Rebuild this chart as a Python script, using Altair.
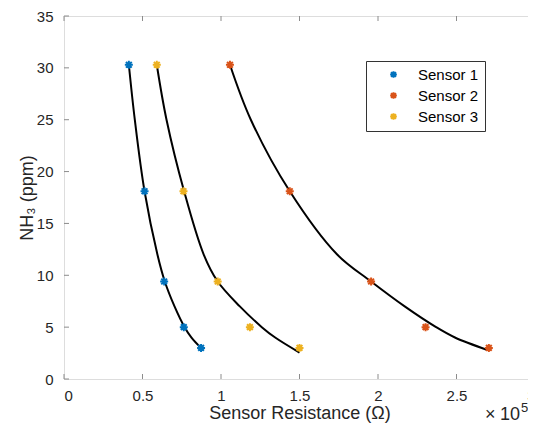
import altair as alt
import pandas as pd

# ---- data ----
ppm = [30.3, 18.1, 9.4, 5.0, 3.0]
sensor1 = [0.413, 0.513, 0.638, 0.763, 0.873]
sensor2 = [1.057, 1.438, 1.956, 2.303, 2.706]
sensor3 = [0.591, 0.761, 0.979, 1.184, 1.500]
series_names = ["Sensor 1", "Sensor 2", "Sensor 3"]
series_colors = ["#0072BD", "#D95319", "#EDB120"]

# fitted curves
fit1_y = [30.3, 25.0, 18.1, 12.0, 9.4, 7.0, 5.0, 4.0, 3.0]
fit1_x = [0.413, 0.451, 0.513, 0.595, 0.642, 0.704, 0.768, 0.812, 0.873]
fit2_y = [30.3, 25.0, 18.1, 12.0, 9.4, 7.0, 5.0, 4.0, 2.8]
fit2_x = [1.057, 1.190, 1.438, 1.740, 1.956, 2.170, 2.370, 2.490, 2.697]
fit3_y = [30.3, 25.0, 18.1, 12.0, 9.4, 7.0, 5.0, 4.0, 2.55]
fit3_x = [0.591, 0.653, 0.765, 0.890, 0.979, 1.120, 1.260, 1.345, 1.500]

x_ticks = [0, 0.5, 1, 1.5, 2, 2.5, 3]
y_ticks = [0, 5, 10, 15, 20, 25, 30, 35]

# ---- tables ----
pts = pd.DataFrame(
    [{"series": s, "x": xv, "y": yv}
     for s, xs in zip(series_names, [sensor1, sensor2, sensor3])
     for xv, yv in zip(xs, ppm)]
)
fits = pd.DataFrame(
    [{"series": s, "x": xv, "y": yv, "i": i}
     for s, xs, ys in zip(series_names, [fit1_x, fit2_x, fit3_x], [fit1_y, fit2_y, fit3_y])
     for i, (xv, yv) in enumerate(zip(xs, ys))]
)
xt = pd.DataFrame({"x": x_ticks})
yt = pd.DataFrame({"y": y_ticks})

W, H = 471, 363
FONT = "Liberation Sans"
TXT = "#262626"
BOX = "#8c8c8c"
STAR = "M-1,0H1M0,-1V1M-0.72,-0.72L0.72,0.72M-0.72,0.72L0.72,-0.72"

xs = alt.Scale(domain=[0, 3], nice=False, zero=False)
ys = alt.Scale(domain=[0, 35], nice=False, zero=False)
xaxis = alt.Axis(values=x_ticks, format="~g", grid=False, domain=False, ticks=False,
                 labelFont=FONT, labelFontSize=15, labelColor=TXT, labelPadding=9,
                 titleFont=FONT, titleFontSize=18, titleColor=TXT, titleFontWeight="normal",
                 titlePadding=1)
yaxis = alt.Axis(values=y_ticks, grid=False, domain=False, ticks=False,
                 labelFont=FONT, labelFontSize=15, labelColor=TXT, labelPadding=11,
                 titleFont=FONT, titleFontSize=18, titleColor=TXT, titleFontWeight="normal",
                 titlePadding=0)
XT = "Sensor Resistance (Ω)"
YT = "NH₃ (ppm)"


def X():
    return alt.X("x:Q", scale=xs, axis=xaxis, title=XT)


def Y():
    return alt.Y("y:Q", scale=ys, axis=yaxis, title=YT)


curves = alt.Chart(fits).mark_line(color="black", strokeWidth=2, interpolate="catmull-rom").encode(
    x=X(), y=Y(), detail="series:N", order="i:Q"
)

points = alt.Chart(pts).mark_point(shape=STAR, filled=False, size=64, strokeWidth=2, opacity=1).encode(
    x=X(), y=Y(),
    color=alt.Color("series:N", scale=alt.Scale(domain=series_names, range=series_colors),
                    legend=alt.Legend(title=None, orient="none", legendX=302, legendY=45,
                                      symbolType=STAR, symbolSize=45, symbolStrokeWidth=2,
                                      labelFont=FONT, labelFontSize=15, labelColor="black",
                                      strokeColor="#333333", fillColor="white", padding=6,
                                      symbolOffset=14, labelOffset=17, rowPadding=5)),
)

tick_b = alt.Chart(xt).mark_rule(color=BOX, strokeWidth=1).encode(
    x=X(), y=alt.value(H), y2=alt.value(H - 5))
tick_t = alt.Chart(xt).mark_rule(color=BOX, strokeWidth=1).encode(
    x=X(), y=alt.value(0), y2=alt.value(5))
tick_l = alt.Chart(yt).mark_rule(color=BOX, strokeWidth=1).encode(
    y=Y(), x=alt.value(0), x2=alt.value(5))
tick_r = alt.Chart(yt).mark_rule(color=BOX, strokeWidth=1).encode(
    y=Y(), x=alt.value(W), x2=alt.value(W - 5))

exp_times = alt.Chart(pd.DataFrame({"t": ["×"]})).mark_text(
    font=FONT, fontSize=18, color=TXT, align="left", baseline="alphabetic"
).encode(text="t:N", x=alt.value(421), y=alt.value(H + 41))
exp_ten = alt.Chart(pd.DataFrame({"t": ["10"]})).mark_text(
    font=FONT, fontSize=18, color=TXT, align="left", baseline="alphabetic"
).encode(text="t:N", x=alt.value(436), y=alt.value(H + 41))
exp_sup = alt.Chart(pd.DataFrame({"t": ["5"]})).mark_text(
    font=FONT, fontSize=13, color=TXT, align="left", baseline="alphabetic"
).encode(text="t:N", x=alt.value(457), y=alt.value(H + 33))

chart = alt.layer(curves, points, tick_b, tick_t, tick_l, tick_r,
                  exp_times, exp_ten, exp_sup).properties(
    width=W, height=H,
    autosize=alt.AutoSizeParams(type="none"),
    padding={"left": 56, "top": 8, "right": -7, "bottom": 45},
).configure_view(stroke=BOX, strokeWidth=1).configure(background="white")

chart.save("out.html", embed_options={"renderer": "svg", "actions": False})
